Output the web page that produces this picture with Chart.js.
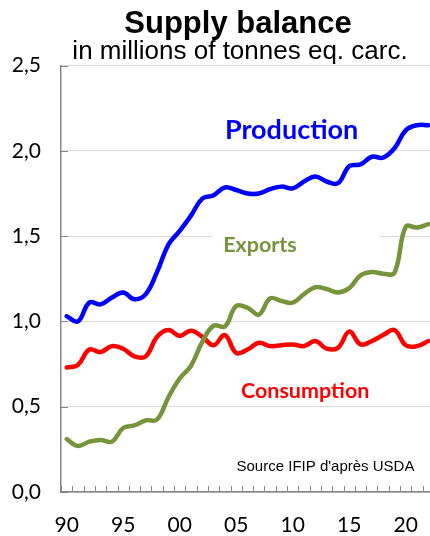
<!DOCTYPE html>
<html>
<head>
<meta charset="utf-8">
<script src="https://cdn.jsdelivr.net/npm/chart.js@4.4.1/dist/chart.umd.min.js"></script>
<style>
  html, body { margin: 0; padding: 0; background: #fff; overflow: hidden; }
  #wrap { position: absolute; left: 0; top: 0; width: 434px; height: 536px; }
</style>
</head>
<body>
<div id="wrap"><canvas id="supplyChart" width="434" height="536"></canvas></div>
<script>
// years 1990 - 2022, shown as two digits
const years = ['90','91','92','93','94','95','96','97','98','99',
               '00','01','02','03','04','05','06','07','08','09',
               '10','11','12','13','14','15','16','17','18','19',
               '20','21','22'];
const shownYears = ['90','95','00','05','10','15','20'];

// millions of tonnes eq. carc.
const production  = [1.03, 1.00, 1.11, 1.10, 1.14, 1.17, 1.13, 1.16, 1.29, 1.45,
                     1.53, 1.62, 1.72, 1.74, 1.785, 1.77, 1.75, 1.75, 1.775, 1.79,
                     1.78, 1.82, 1.85, 1.82, 1.81, 1.91, 1.92, 1.965, 1.96, 2.015,
                     2.12, 2.15, 2.15];
const exportsData = [0.31, 0.27, 0.295, 0.305, 0.295, 0.375, 0.39, 0.42, 0.425, 0.555,
                     0.665, 0.74, 0.88, 0.975, 0.97, 1.09, 1.08, 1.04, 1.135, 1.12,
                     1.11, 1.16, 1.20, 1.19, 1.17, 1.195, 1.27, 1.29, 1.28, 1.285,
                     1.555, 1.55, 1.57];
const consumption = [0.73, 0.745, 0.835, 0.82, 0.855, 0.84, 0.795, 0.795, 0.91, 0.95,
                     0.915, 0.945, 0.91, 0.86, 0.92, 0.815, 0.835, 0.875, 0.855, 0.86,
                     0.865, 0.855, 0.885, 0.84, 0.845, 0.94, 0.865, 0.885, 0.92, 0.95,
                     0.86, 0.855, 0.885];

const yTicks = [0, 0.5, 1.0, 1.5, 2.0, 2.5];

const BLUE = '#0000FF';
const GREEN = '#77933C';
const RED = '#FF0000';

// series names written on the plot (x = category index, y = value)
const seriesLabels = [
  { text: 'Production', color: BLUE, x: 19.9, y: 2.12, size: 27 },
  { text: 'Exports', color: GREEN, x: 17.1, y: 1.45, size: 21.5, box: [12.9, 27.7] },
  { text: 'Consumption', color: RED, x: 21.1, y: 0.59, size: 21.5, box: [14.15, 31.5] }
];

const textPlugin = {
  id: 'textPlugin',
  beforeDatasetsDraw(chart) {
    const { ctx, scales: { x, y } } = chart;
    ctx.save();
    seriesLabels.forEach(l => {
      const px = x.getPixelForValue(l.x);
      const py = y.getPixelForValue(l.y);
      if (l.box) {
        ctx.fillStyle = '#fff';
        const x0 = x.getPixelForValue(l.box[0]);
        const x1 = x.getPixelForValue(l.box[1]);
        ctx.fillRect(x0, py - 14, x1 - x0, 28);
      }
      ctx.font = 'bold ' + l.size + 'px Lato';
      ctx.fillStyle = l.color;
      ctx.textAlign = 'center';
      ctx.textBaseline = 'middle';
      ctx.fillText(l.text, px, py);
    });

    // small tick marks drawn inside the axes
    ctx.strokeStyle = '#868686';
    ctx.lineWidth = 1;
    const area = chart.chartArea;
    yTicks.forEach(v => {
      const py = Math.round(y.getPixelForValue(v)) + 0.5;
      ctx.beginPath();
      ctx.moveTo(area.left, py);
      ctx.lineTo(area.left + 7, py);
      ctx.stroke();
    });
    for (let i = 0; i <= years.length; i++) {
      const px = Math.round(x.getPixelForValue(i - 0.5)) + 0.5;
      ctx.beginPath();
      ctx.moveTo(px, area.bottom);
      ctx.lineTo(px, area.bottom - 6);
      ctx.stroke();
    }
    ctx.restore();
  },
  afterDraw(chart) {
    const { ctx, scales: { x, y } } = chart;
    ctx.save();
    ctx.fillStyle = '#000';
    ctx.textAlign = 'center';
    ctx.textBaseline = 'alphabetic';
    ctx.font = 'bold 31px "Liberation Sans"';
    ctx.fillText('Supply balance', 238, 33);
    ctx.font = '26px "Liberation Sans"';
    ctx.fillText('in millions of tonnes eq. carc.', 240, 59);
    ctx.font = '15px "Liberation Sans"';
    ctx.fillText("Source IFIP d'après USDA", x.getPixelForValue(22.9), y.getPixelForValue(0.125));
    ctx.restore();
  }
};

const ctx = document.getElementById('supplyChart').getContext('2d');
const supplyChart = new Chart(ctx, {
  type: 'line',
  data: {
    labels: years,
    datasets: [
      { label: 'Production', data: production, borderColor: BLUE },
      { label: 'Exports', data: exportsData, borderColor: GREEN },
      { label: 'Consumption', data: consumption, borderColor: RED }
    ]
  },
  options: {
    responsive: false,
    animation: false,
    layout: { padding: { top: 65.5, right: 0, bottom: 0, left: 0 } },
    elements: {
      line: { borderWidth: 4.5, tension: 0.4, fill: false, borderCapStyle: 'round' },
      point: { radius: 0 }
    },
    plugins: {
      legend: { display: false },
      tooltip: { enabled: false }
    },
    scales: {
      x: {
        type: 'category',
        offset: true,
        grid: { display: false },
        border: { display: true, color: '#868686', width: 1.5 },
        ticks: {
          autoSkip: false,
          maxRotation: 0,
          padding: 13,
          color: '#000',
          font: { family: 'Lato', size: 21 },
          callback: function (value, index) {
            const lbl = years[index];
            return shownYears.includes(lbl) ? lbl : '';
          }
        },
        afterFit(scale) {
          scale.height = 44;
          scale.paddingLeft = 0;
          scale.paddingRight = 0;
        }
      },
      y: {
        min: 0,
        max: 2.5,
        afterBuildTicks(scale) { scale.ticks = yTicks.map(v => ({ value: v })); },
        grid: { color: '#D9D9D9', lineWidth: 1, drawTicks: false },
        border: { display: true, color: '#868686', width: 1.5 },
        ticks: {
          padding: 20,
          color: '#000',
          font: { family: 'Lato', size: 21 },
          callback: v => v.toFixed(1).replace('.', ',')
        },
        afterFit(scale) { scale.width = 61; }
      }
    }
  },
  plugins: [textPlugin]
});
</script>
</body>
</html>
